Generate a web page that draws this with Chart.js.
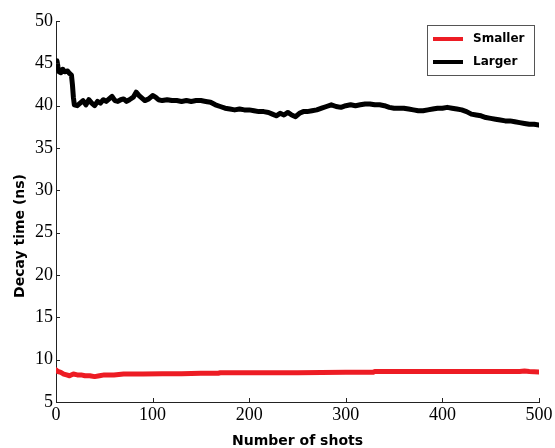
<!DOCTYPE html>
<html>
<head>
<meta charset="utf-8">
<script src="https://cdn.jsdelivr.net/npm/chart.js@4.4.0/dist/chart.umd.min.js"></script>
<style>
  html, body { margin: 0; padding: 0; background: #fff; }
  #wrap { width: 555px; height: 448px; }
</style>
</head>
<body>
<div id="wrap"><canvas id="c" width="555" height="448"></canvas></div>
<script>
// ---- data ----
const seriesNames = ["Smaller", "Larger"];
const seriesColors = ["#ed1c24", "#000000"];

const smallerX = [0, 2, 5, 8, 11, 14, 18, 22, 26, 30, 35, 40, 45, 50, 60, 70, 90, 110, 130, 150, 168, 170, 200, 250, 300, 328, 330, 380, 430, 480, 485, 490, 500];
const smallerY = [8.8, 8.6, 8.5, 8.3, 8.2, 8.1, 8.3, 8.2, 8.2, 8.1, 8.1, 8.0, 8.1, 8.2, 8.2, 8.3, 8.3, 8.35, 8.35, 8.4, 8.4, 8.45, 8.45, 8.45, 8.5, 8.5, 8.6, 8.6, 8.6, 8.6, 8.65, 8.6, 8.55];

const largerX = [0, 1, 2, 3, 5, 7, 9, 12, 14, 16, 17, 18, 19, 22, 25, 28, 31, 34, 37, 40, 43, 46, 49, 52, 55, 58, 61, 64, 67, 70, 73, 76, 80, 83, 86, 89, 92, 96, 100, 103, 106, 110, 115, 120, 125, 130, 135, 140, 145, 150, 155, 160, 165, 170, 175, 180, 185, 190, 195, 200, 205, 210, 215, 220, 224, 228, 232, 236, 240, 244, 248, 252, 256, 260, 265, 270, 275, 280, 285, 290, 295, 300, 305, 310, 315, 320, 325, 330, 335, 340, 345, 350, 355, 360, 365, 370, 375, 380, 385, 390, 395, 400, 405, 410, 415, 420, 425, 430, 435, 440, 445, 450, 455, 460, 465, 470, 475, 480, 485, 490, 495, 500];
const largerY = [45.2, 45.3, 44.6, 44.0, 43.9, 44.3, 44.0, 44.1, 43.8, 43.6, 42.5, 41.0, 40.1, 40.0, 40.3, 40.6, 40.1, 40.7, 40.3, 40.0, 40.5, 40.3, 40.7, 40.5, 40.8, 41.1, 40.6, 40.5, 40.7, 40.8, 40.5, 40.7, 41.0, 41.6, 41.2, 40.9, 40.6, 40.8, 41.2, 41.0, 40.7, 40.6, 40.7, 40.6, 40.6, 40.5, 40.6, 40.5, 40.6, 40.6, 40.5, 40.4, 40.1, 39.9, 39.7, 39.6, 39.5, 39.6, 39.5, 39.5, 39.4, 39.3, 39.3, 39.2, 39.0, 38.8, 39.1, 38.9, 39.2, 38.9, 38.7, 39.1, 39.3, 39.3, 39.4, 39.5, 39.7, 39.9, 40.1, 39.9, 39.8, 40.0, 40.1, 40.0, 40.1, 40.2, 40.2, 40.1, 40.1, 40.0, 39.8, 39.7, 39.7, 39.7, 39.6, 39.5, 39.4, 39.4, 39.5, 39.6, 39.7, 39.7, 39.8, 39.7, 39.6, 39.5, 39.3, 39.0, 38.9, 38.8, 38.6, 38.5, 38.4, 38.3, 38.2, 38.2, 38.1, 38.0, 37.9, 37.8, 37.8, 37.7];

const xTickValues = [0, 100, 200, 300, 400, 500];
const yTickValues = [5, 10, 15, 20, 25, 30, 35, 40, 45, 50];
const xTitle = "Number of shots";
const yTitle = "Decay time (ns)";

// ---- build ----
function pts(xs, ys) { return xs.map((x, i) => ({ x: x, y: ys[i] })); }

const inwardTicks = {
  id: 'inwardTicks',
  afterDatasetsDraw(chart) {
    const ctx = chart.ctx, xs = chart.scales.x, ys = chart.scales.y, a = chart.chartArea;
    ctx.save();
    ctx.strokeStyle = '#222';
    ctx.lineWidth = 1;
    ctx.beginPath();
    ys.ticks.forEach(t => {
      const py = Math.round(ys.getPixelForValue(t.value)) + 0.5;
      ctx.moveTo(a.left, py); ctx.lineTo(a.left + 4, py);
    });
    xs.ticks.forEach(t => {
      const px = Math.round(xs.getPixelForValue(t.value)) + 0.5;
      ctx.moveTo(px, a.bottom); ctx.lineTo(px, a.bottom - 4);
    });
    ctx.stroke();
    // y axis title
    ctx.fillStyle = '#000';
    ctx.font = 'bold 14px "DejaVu Sans"';
    ctx.textAlign = 'center';
    ctx.textBaseline = 'middle';
    ctx.translate(20, 236);
    ctx.rotate(-Math.PI / 2);
    ctx.fillText(yTitle, 0, 0);
    ctx.restore();
  }
};

const boxLegend = {
  id: 'boxLegend',
  afterDraw(chart) {
    const ctx = chart.ctx;
    const bx = 427.5, by = 25.5, bw = 107, bh = 50;
    ctx.save();
    ctx.fillStyle = '#fff';
    ctx.fillRect(bx, by, bw, bh);
    ctx.strokeStyle = '#555';
    ctx.lineWidth = 1;
    ctx.strokeRect(bx, by, bw, bh);
    chart.data.datasets.forEach((ds, i) => {
      const y = 39 + i * 23;
      ctx.strokeStyle = ds.borderColor;
      ctx.lineWidth = 4;
      ctx.beginPath();
      ctx.moveTo(433, y); ctx.lineTo(463, y);
      ctx.stroke();
      ctx.fillStyle = '#000';
      ctx.font = 'bold 12px "DejaVu Sans"';
      ctx.textAlign = 'left';
      ctx.textBaseline = 'middle';
      ctx.fillText(ds.label, 473, y);
    });
    ctx.restore();
  }
};

new Chart(document.getElementById('c'), {
  type: 'scatter',
  data: {
    datasets: [
      { label: seriesNames[0], data: pts(smallerX, smallerY), borderColor: seriesColors[0], backgroundColor: seriesColors[0],
        showLine: true, pointRadius: 0, borderWidth: 5, tension: 0, borderJoinStyle: 'round', borderCapStyle: 'round' },
      { label: seriesNames[1], data: pts(largerX, largerY), borderColor: seriesColors[1], backgroundColor: seriesColors[1],
        showLine: true, pointRadius: 0, borderWidth: 5, tension: 0, borderJoinStyle: 'round', borderCapStyle: 'round' }
    ]
  },
  options: {
    responsive: false,
    animation: false,
    layout: { padding: { top: 21, right: 16, left: 0, bottom: 0 } },
    plugins: { legend: { display: false }, tooltip: { enabled: false } },
    scales: {
      x: {
        type: 'linear', min: 0, max: 500,
        afterBuildTicks(s) { s.ticks = xTickValues.map(v => ({ value: v })); },
        afterFit(s) { s.height = 46; },
        grid: { drawOnChartArea: false, drawTicks: false },
        border: { display: true, color: '#222', width: 1 },
        ticks: { color: '#000', padding: 2, maxRotation: 0, font: { family: '"Liberation Serif"', size: 18 } },
        title: { display: true, text: xTitle, color: '#000', padding: { top: 0, bottom: 0 },
                 font: { family: '"DejaVu Sans"', size: 14, weight: 'bold', lineHeight: 1 } }
      },
      y: {
        type: 'linear', min: 5, max: 50,
        afterBuildTicks(s) { s.ticks = yTickValues.map(v => ({ value: v })); },
        afterFit(s) { s.width = 56; },
        grid: { drawOnChartArea: false, drawTicks: false },
        border: { display: true, color: '#222', width: 1 },
        ticks: { color: '#000', padding: 3, font: { family: '"Liberation Serif"', size: 18 } },
        title: { display: false }
      }
    }
  },
  plugins: [inwardTicks, boxLegend]
});
</script>
</body>
</html>
